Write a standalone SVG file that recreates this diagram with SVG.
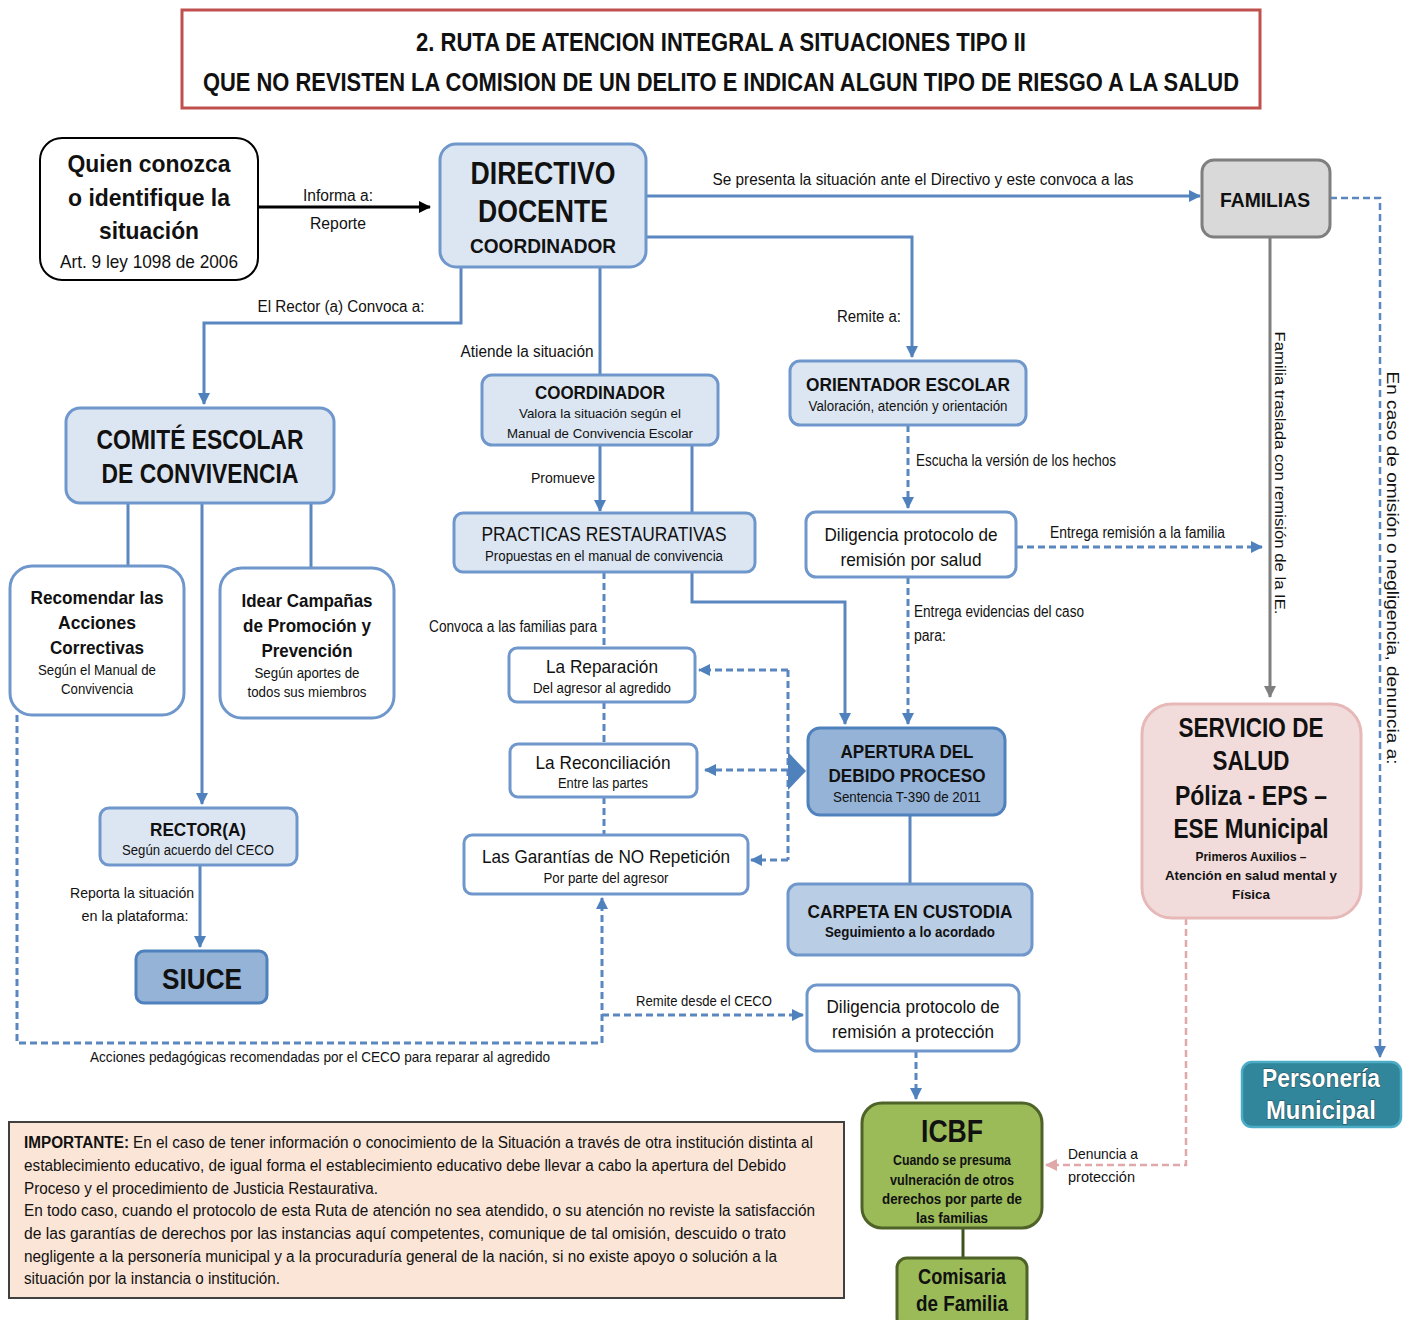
<svg xmlns="http://www.w3.org/2000/svg" width="1411" height="1320" viewBox="0 0 1411 1320">
<style>
text{font-family:"Liberation Sans",Arial,sans-serif;fill:#111}
.c{text-anchor:middle}
.b{font-weight:bold}
.lb{fill:#dce6f2;stroke:#6f97cc;stroke-width:3}
.wb{fill:#ffffff;stroke:#6f97cc;stroke-width:3}
.mb{fill:#95b3d7;stroke:#4f81bd;stroke-width:3}
.sol{fill:none;stroke:#5b87c0;stroke-width:3}
.dsh{fill:none;stroke:#5b87c0;stroke-width:3;stroke-dasharray:7 4}
.pm{fill:#fff;stroke:#1f4e5a;stroke-width:1.2;paint-order:stroke}
</style>
<defs>
<marker id="ab" markerWidth="14" markerHeight="14" refX="11" refY="6" orient="auto" markerUnits="userSpaceOnUse"><path d="M0,0 L12,6 L0,12 z" fill="#4f81bd"/></marker>
<marker id="ak" markerWidth="14" markerHeight="14" refX="11" refY="6" orient="auto" markerUnits="userSpaceOnUse"><path d="M0,0 L12,6 L0,12 z" fill="#000"/></marker>
<marker id="ag" markerWidth="14" markerHeight="14" refX="11" refY="6" orient="auto" markerUnits="userSpaceOnUse"><path d="M0,0 L12,6 L0,12 z" fill="#7f7f7f"/></marker>
<marker id="ap" markerWidth="14" markerHeight="14" refX="11" refY="6" orient="auto" markerUnits="userSpaceOnUse"><path d="M0,0 L12,6 L0,12 z" fill="#e0a8a8"/></marker>
</defs>

<g id="title">
<rect x="182" y="10" width="1078" height="98" fill="#fff" stroke="#c0504d" stroke-width="3"/>
<text class="c b" x="721" y="51" font-size="26" textLength="610" lengthAdjust="spacingAndGlyphs">2. RUTA DE ATENCION INTEGRAL A SITUACIONES TIPO II</text>
<text class="c b" x="721" y="91" font-size="26" textLength="1036" lengthAdjust="spacingAndGlyphs">QUE NO REVISTEN LA COMISION DE UN DELITO E INDICAN ALGUN TIPO DE RIESGO A LA SALUD</text>
</g>

<g id="connectors">
<path d="M258,207 H430" fill="none" stroke="#000" stroke-width="3" marker-end="url(#ak)"/>
<path class="sol" d="M646,196 H1200" marker-end="url(#ab)"/>
<path class="sol" d="M646,237 H912 V357" marker-end="url(#ab)"/>
<path class="sol" d="M461,267 V323 H204 V404" marker-end="url(#ab)"/>
<path class="sol" d="M600,267 V375"/>
<path class="sol" d="M128,503 V566"/>
<path class="sol" d="M311,503 V568"/>
<path class="sol" d="M202,503 V804" marker-end="url(#ab)"/>
<path class="sol" d="M200,865 V947" marker-end="url(#ab)"/>
<path class="sol" d="M600,445 V511" marker-end="url(#ab)"/>
<path class="sol" d="M692,445 V602 H845 V724" marker-end="url(#ab)"/>
<path class="sol" d="M910,815 V884"/>
<path class="dsh" d="M908,425 V508" marker-end="url(#ab)"/>
<path class="dsh" d="M908,577 V724" marker-end="url(#ab)"/>
<path class="dsh" d="M1016,547 H1262" marker-end="url(#ab)"/>
<path class="dsh" d="M604,572 V648"/>
<path class="dsh" d="M604,702 V744"/>
<path class="dsh" d="M604,797 V835"/>
<path class="dsh" d="M788,670 H699" marker-end="url(#ab)"/>
<path class="dsh" d="M788,770 H705" marker-end="url(#ab)"/>
<path class="dsh" d="M788,860 H751" marker-end="url(#ab)"/>
<path class="dsh" d="M788,670 V860"/>
<polygon points="788,752 806,771 788,790" fill="#4f81bd"/>
<path class="dsh" d="M17,715 V1043 H602 V898" marker-end="url(#ab)"/>
<path class="dsh" d="M602,1015 H803" marker-end="url(#ab)"/>
<path class="dsh" d="M916,1051 V1099" marker-end="url(#ab)"/>
<path d="M1270,237 V697" fill="none" stroke="#7f7f7f" stroke-width="3" marker-end="url(#ag)"/>
<path d="M1330,198 H1380 V1057" fill="none" stroke="#5b87c0" stroke-width="2.5" stroke-dasharray="7 4" marker-end="url(#ab)"/>
<path d="M1186,918 V1165 H1046" fill="none" stroke="#e0a8a8" stroke-width="2.5" stroke-dasharray="7 4" marker-end="url(#ap)"/>
<path d="M963,1228 V1258" fill="none" stroke="#3f5220" stroke-width="3"/>

<text class="c" x="338" y="201" font-size="16" textLength="70" lengthAdjust="spacingAndGlyphs">Informa a:</text>
<text class="c" x="338" y="229" font-size="16" textLength="56" lengthAdjust="spacingAndGlyphs">Reporte</text>
<text class="c" x="923" y="185" font-size="16" textLength="421" lengthAdjust="spacingAndGlyphs">Se presenta la situación ante el Directivo y este convoca a las</text>
<text class="c" x="341" y="312" font-size="16" textLength="167" lengthAdjust="spacingAndGlyphs">El Rector (a) Convoca a:</text>
<text class="c" x="869" y="322" font-size="16" textLength="64" lengthAdjust="spacingAndGlyphs">Remite a:</text>
<text class="c" x="527" y="357" font-size="16" textLength="133" lengthAdjust="spacingAndGlyphs">Atiende la situación</text>
<text x="916" y="466" font-size="16" textLength="200" lengthAdjust="spacingAndGlyphs">Escucha la versión de los hechos</text>
<text class="c" x="563" y="483" font-size="15" textLength="64" lengthAdjust="spacingAndGlyphs">Promueve</text>
<text x="1050" y="538" font-size="16" textLength="175" lengthAdjust="spacingAndGlyphs">Entrega remisión a la familia</text>
<text x="914" y="617" font-size="16" textLength="170" lengthAdjust="spacingAndGlyphs">Entrega evidencias del caso</text>
<text x="914" y="641" font-size="16" textLength="32" lengthAdjust="spacingAndGlyphs">para:</text>
<text class="c" x="513" y="632" font-size="16" textLength="168" lengthAdjust="spacingAndGlyphs">Convoca a las familias para</text>
<text class="c" x="132" y="898" font-size="15" textLength="124" lengthAdjust="spacingAndGlyphs">Reporta la situación</text>
<text class="c" x="135" y="921" font-size="15" textLength="107" lengthAdjust="spacingAndGlyphs">en la plataforma:</text>
<text class="c" x="704" y="1006" font-size="15" textLength="136" lengthAdjust="spacingAndGlyphs">Remite desde el CECO</text>
<text class="c" x="320" y="1062" font-size="15" textLength="460" lengthAdjust="spacingAndGlyphs">Acciones pedagógicas recomendadas por el CECO para reparar al agredido</text>
<text x="1068" y="1159" font-size="15" textLength="70" lengthAdjust="spacingAndGlyphs">Denuncia a</text>
<text x="1068" y="1182" font-size="15" textLength="67" lengthAdjust="spacingAndGlyphs">protección</text>
<text class="c" transform="translate(1275,473) rotate(90)" font-size="15" textLength="283" lengthAdjust="spacingAndGlyphs">Familia traslada con remisión de la IE.</text>
<text class="c" transform="translate(1387,568) rotate(90)" font-size="17" textLength="393" lengthAdjust="spacingAndGlyphs">En caso de omisión o negligencia, denuncia  a:</text>
</g>

<g id="quien">
<rect x="40" y="138" width="218" height="142" rx="22" fill="#fff" stroke="#000" stroke-width="2"/>
<text class="c b" x="149" y="172" font-size="24" textLength="163" lengthAdjust="spacingAndGlyphs">Quien conozca</text>
<text class="c b" x="149" y="206" font-size="24" textLength="162" lengthAdjust="spacingAndGlyphs">o identifique la</text>
<text class="c b" x="149" y="239" font-size="24" textLength="100" lengthAdjust="spacingAndGlyphs">situación</text>
<text class="c" x="149" y="268" font-size="19" textLength="178" lengthAdjust="spacingAndGlyphs">Art. 9 ley 1098 de 2006</text>
</g>

<g id="directivo">
<rect class="lb" x="440" y="144" width="206" height="123" rx="16"/>
<text class="c b" x="543" y="184" font-size="31" textLength="145" lengthAdjust="spacingAndGlyphs">DIRECTIVO</text>
<text class="c b" x="543" y="222" font-size="31" textLength="130" lengthAdjust="spacingAndGlyphs">DOCENTE</text>
<text class="c b" x="543" y="253" font-size="21" textLength="146" lengthAdjust="spacingAndGlyphs">COORDINADOR</text>
</g>

<g id="familias">
<rect x="1202" y="160" width="128" height="77" rx="12" fill="#d9d9d9" stroke="#7f7f7f" stroke-width="3"/>
<text class="c b" x="1265" y="207" font-size="21" textLength="90" lengthAdjust="spacingAndGlyphs">FAMILIAS</text>
</g>

<g id="comite">
<rect class="lb" x="66" y="408" width="268" height="95" rx="14"/>
<text class="c b" x="200" y="449" font-size="27" textLength="207" lengthAdjust="spacingAndGlyphs">COMITÉ ESCOLAR</text>
<text class="c b" x="200" y="483" font-size="27" textLength="197" lengthAdjust="spacingAndGlyphs">DE CONVIVENCIA</text>
</g>

<g id="recomendar">
<rect class="wb" x="10" y="566" width="174" height="149" rx="22"/>
<text class="c b" x="97" y="604" font-size="19" textLength="133" lengthAdjust="spacingAndGlyphs">Recomendar las</text>
<text class="c b" x="97" y="629" font-size="19" textLength="78" lengthAdjust="spacingAndGlyphs">Acciones</text>
<text class="c b" x="97" y="654" font-size="19" textLength="94" lengthAdjust="spacingAndGlyphs">Correctivas</text>
<text class="c" x="97" y="675" font-size="14" textLength="118" lengthAdjust="spacingAndGlyphs">Según el Manual de</text>
<text class="c" x="97" y="694" font-size="14" textLength="72" lengthAdjust="spacingAndGlyphs">Convivencia</text>
</g>

<g id="idear">
<rect class="wb" x="220" y="568" width="174" height="150" rx="22"/>
<text class="c b" x="307" y="607" font-size="19" textLength="131" lengthAdjust="spacingAndGlyphs">Idear Campañas</text>
<text class="c b" x="307" y="632" font-size="19" textLength="128" lengthAdjust="spacingAndGlyphs">de Promoción y</text>
<text class="c b" x="307" y="657" font-size="19" textLength="91" lengthAdjust="spacingAndGlyphs">Prevención</text>
<text class="c" x="307" y="678" font-size="14" textLength="105" lengthAdjust="spacingAndGlyphs">Según aportes de</text>
<text class="c" x="307" y="697" font-size="14" textLength="119" lengthAdjust="spacingAndGlyphs">todos sus miembros</text>
</g>

<g id="rector">
<rect class="lb" x="100" y="808" width="197" height="57" rx="9"/>
<text class="c b" x="198" y="836" font-size="19" textLength="96" lengthAdjust="spacingAndGlyphs">RECTOR(A)</text>
<text class="c" x="198" y="855" font-size="14" textLength="152" lengthAdjust="spacingAndGlyphs">Según acuerdo del CECO</text>
</g>

<g id="siuce">
<rect class="mb" x="136" y="951" width="131" height="52" rx="8"/>
<text class="c b" x="202" y="989" font-size="30" textLength="80" lengthAdjust="spacingAndGlyphs">SIUCE</text>
</g>

<g id="coordinador">
<rect class="lb" x="482" y="375" width="236" height="70" rx="10"/>
<text class="c b" x="600" y="399" font-size="19" textLength="130" lengthAdjust="spacingAndGlyphs">COORDINADOR</text>
<text class="c" x="600" y="418" font-size="13" textLength="162" lengthAdjust="spacingAndGlyphs">Valora la situación según el</text>
<text class="c" x="600" y="438" font-size="13" textLength="186" lengthAdjust="spacingAndGlyphs">Manual de Convivencia Escolar</text>
</g>

<g id="practicas">
<rect class="lb" x="454" y="513" width="301" height="59" rx="9"/>
<text class="c" x="604" y="541" font-size="20" textLength="245" lengthAdjust="spacingAndGlyphs">PRACTICAS RESTAURATIVAS</text>
<text class="c" x="604" y="561" font-size="14" textLength="238" lengthAdjust="spacingAndGlyphs">Propuestas en el manual de convivencia</text>
</g>

<g id="reparacion">
<rect class="wb" x="509" y="648" width="186" height="54" rx="8"/>
<text class="c" x="602" y="673" font-size="19" textLength="112" lengthAdjust="spacingAndGlyphs">La Reparación</text>
<text class="c" x="602" y="693" font-size="14" textLength="138" lengthAdjust="spacingAndGlyphs">Del agresor al agredido</text>
</g>

<g id="reconciliacion">
<rect class="wb" x="510" y="744" width="187" height="53" rx="8"/>
<text class="c" x="603" y="769" font-size="19" textLength="135" lengthAdjust="spacingAndGlyphs">La Reconciliación</text>
<text class="c" x="603" y="788" font-size="14" textLength="90" lengthAdjust="spacingAndGlyphs">Entre las partes</text>
</g>

<g id="garantias">
<rect class="wb" x="464" y="835" width="284" height="59" rx="8"/>
<text class="c" x="606" y="863" font-size="19" textLength="248" lengthAdjust="spacingAndGlyphs">Las Garantías de NO Repetición</text>
<text class="c" x="606" y="883" font-size="14" textLength="125" lengthAdjust="spacingAndGlyphs">Por parte del agresor</text>
</g>

<g id="orientador">
<rect class="lb" x="790" y="361" width="236" height="64" rx="10"/>
<text class="c b" x="908" y="391" font-size="19" textLength="204" lengthAdjust="spacingAndGlyphs">ORIENTADOR ESCOLAR</text>
<text class="c" x="908" y="411" font-size="14" textLength="199" lengthAdjust="spacingAndGlyphs">Valoración, atención y orientación</text>
</g>

<g id="diligencia-salud">
<rect class="wb" x="806" y="512" width="210" height="65" rx="10"/>
<text class="c" x="911" y="541" font-size="19" textLength="173" lengthAdjust="spacingAndGlyphs">Diligencia protocolo de</text>
<text class="c" x="911" y="566" font-size="19" textLength="141" lengthAdjust="spacingAndGlyphs">remisión por salud</text>
</g>

<g id="apertura">
<rect class="mb" x="808" y="728" width="197" height="87" rx="12"/>
<text class="c b" x="907" y="758" font-size="19" textLength="133" lengthAdjust="spacingAndGlyphs">APERTURA DEL</text>
<text class="c b" x="907" y="782" font-size="19" textLength="157" lengthAdjust="spacingAndGlyphs">DEBIDO PROCESO</text>
<text class="c" x="907" y="802" font-size="14" textLength="148" lengthAdjust="spacingAndGlyphs">Sentencia T-390 de 2011</text>
</g>

<g id="carpeta">
<rect x="788" y="884" width="244" height="71" rx="10" fill="#b9cde5" stroke="#6f97cc" stroke-width="3"/>
<text class="c b" x="910" y="918" font-size="19" textLength="205" lengthAdjust="spacingAndGlyphs">CARPETA EN CUSTODIA</text>
<text class="c b" x="910" y="937" font-size="14" textLength="170" lengthAdjust="spacingAndGlyphs">Seguimiento a lo acordado</text>
</g>

<g id="diligencia-proteccion">
<rect class="wb" x="807" y="985" width="212" height="66" rx="10"/>
<text class="c" x="913" y="1013" font-size="19" textLength="173" lengthAdjust="spacingAndGlyphs">Diligencia protocolo de</text>
<text class="c" x="913" y="1038" font-size="19" textLength="162" lengthAdjust="spacingAndGlyphs">remisión a protección</text>
</g>

<g id="icbf">
<rect x="862" y="1103" width="180" height="125" rx="20" fill="#9bbb59" stroke="#4f6228" stroke-width="3"/>
<text class="c b" x="952" y="1142" font-size="32" textLength="62" lengthAdjust="spacingAndGlyphs">ICBF</text>
<text class="c b" x="952" y="1165" font-size="14" textLength="118" lengthAdjust="spacingAndGlyphs">Cuando se presuma</text>
<text class="c b" x="952" y="1185" font-size="14" textLength="124" lengthAdjust="spacingAndGlyphs">vulneración de otros</text>
<text class="c b" x="952" y="1204" font-size="14" textLength="140" lengthAdjust="spacingAndGlyphs">derechos por parte de</text>
<text class="c b" x="952" y="1223" font-size="14" textLength="72" lengthAdjust="spacingAndGlyphs">las familias</text>
</g>

<g id="comisaria">
<rect x="897" y="1258" width="130" height="70" rx="10" fill="#9bbb59" stroke="#4f6228" stroke-width="3"/>
<text class="c b" x="962" y="1284" font-size="22" textLength="88" lengthAdjust="spacingAndGlyphs">Comisaria</text>
<text class="c b" x="962" y="1311" font-size="22" textLength="92" lengthAdjust="spacingAndGlyphs">de Familia</text>
</g>

<g id="salud">
<rect x="1142" y="704" width="219" height="214" rx="30" fill="#f2dcdb" stroke="#e6b9b8" stroke-width="3"/>
<text class="c b" x="1251" y="737" font-size="27" textLength="145" lengthAdjust="spacingAndGlyphs">SERVICIO DE</text>
<text class="c b" x="1251" y="770" font-size="27" textLength="77" lengthAdjust="spacingAndGlyphs">SALUD</text>
<text class="c b" x="1251" y="805" font-size="27" textLength="152" lengthAdjust="spacingAndGlyphs">Póliza - EPS –</text>
<text class="c b" x="1251" y="838" font-size="27" textLength="155" lengthAdjust="spacingAndGlyphs">ESE Municipal</text>
<text class="c b" x="1251" y="861" font-size="13" textLength="111" lengthAdjust="spacingAndGlyphs">Primeros Auxilios –</text>
<text class="c b" x="1251" y="880" font-size="13" textLength="172" lengthAdjust="spacingAndGlyphs">Atención en salud mental y</text>
<text class="c b" x="1251" y="899" font-size="13" textLength="38" lengthAdjust="spacingAndGlyphs">Física</text>
</g>

<g id="personeria">
<rect x="1242" y="1062" width="159" height="65" rx="10" fill="#31869b" stroke="#4bacc6" stroke-width="2.5"/>
<text class="c b pm" x="1321" y="1087" font-size="26" textLength="118" lengthAdjust="spacingAndGlyphs">Personería</text>
<text class="c b pm" x="1321" y="1119" font-size="26" textLength="110" lengthAdjust="spacingAndGlyphs">Municipal</text>
</g>

<g id="importante">
<rect x="9" y="1122" width="835" height="176" fill="#fbe5d6" stroke="#404040" stroke-width="2"/>
<text class="b" x="24" y="1148" font-size="16" textLength="105" lengthAdjust="spacingAndGlyphs">IMPORTANTE:</text>
<text x="133" y="1148" font-size="16" textLength="680" lengthAdjust="spacingAndGlyphs">En el caso de tener información o conocimiento de la Situación a través de otra institución distinta al</text>
<text x="24" y="1171" font-size="16" textLength="762" lengthAdjust="spacingAndGlyphs">establecimiento educativo, de igual forma el establecimiento educativo debe llevar a cabo la apertura del Debido</text>
<text x="24" y="1194" font-size="16" textLength="354" lengthAdjust="spacingAndGlyphs">Proceso y el procedimiento de Justicia Restaurativa.</text>
<text x="24" y="1216" font-size="16" textLength="791" lengthAdjust="spacingAndGlyphs">En todo caso, cuando el protocolo de esta Ruta de atención no sea atendido, o su atención no reviste la satisfacción</text>
<text x="24" y="1239" font-size="16" textLength="762" lengthAdjust="spacingAndGlyphs">de las garantías de derechos por las instancias aquí competentes, comunique de tal omisión, descuido o trato</text>
<text x="24" y="1262" font-size="16" textLength="753" lengthAdjust="spacingAndGlyphs">negligente a la personería municipal y a la procuraduría general de la nación, si no existe apoyo o solución a la</text>
<text x="24" y="1284" font-size="16" textLength="256" lengthAdjust="spacingAndGlyphs">situación por la instancia o institución.</text>
</g>
</svg>
